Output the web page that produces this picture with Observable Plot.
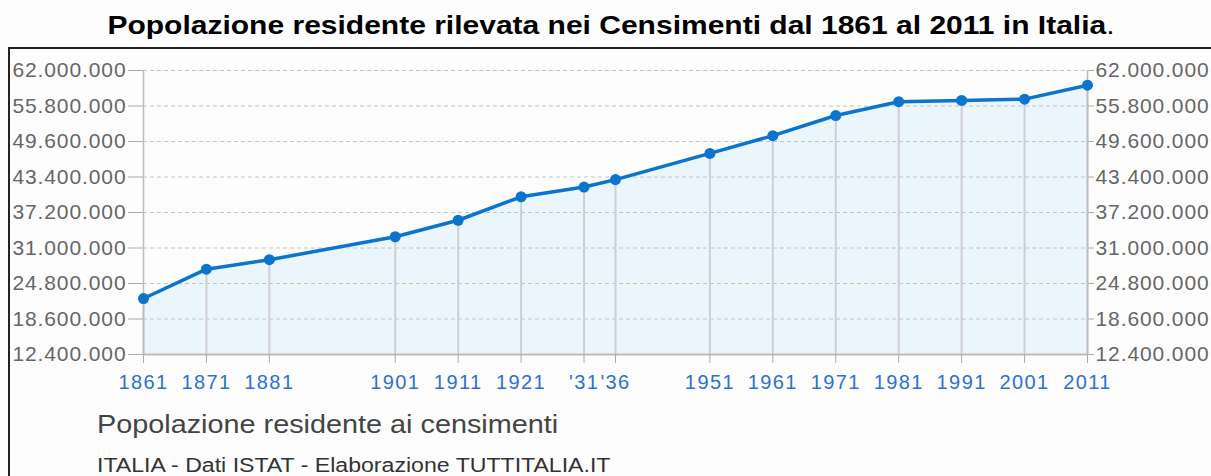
<!DOCTYPE html>
<html>
<head>
<meta charset="utf-8">
<script src="https://cdn.jsdelivr.net/npm/d3@7"></script>
<script src="https://cdn.jsdelivr.net/npm/@observablehq/plot@0.6"></script>
<style>
  html, body { margin: 0; padding: 0; background: #fdfdfd; }
  body { width: 1211px; height: 476px; position: relative; overflow: hidden; font-family: "Liberation Sans", Arial, sans-serif; }
  #title { position: absolute; left: 0; width: 1222px; top: 11px; text-align: center; font-size: 25px; color: #000; white-space: nowrap; transform: scaleX(1.2); transform-origin: 611px 0; }
  #box { position: absolute; left: 8px; top: 47px; width: 1300px; height: 500px; border-left: 2px solid #222; border-top: 2px solid #222; }
  #chart { position: absolute; left: 0; top: 48px; }
  #subtitle { position: absolute; left: 97px; top: 409px; font-size: 26px; color: #444; white-space: nowrap; transform: scaleX(1.108); transform-origin: 0 0; }
  #caption { position: absolute; left: 97px; top: 454px; font-size: 20px; color: #333; white-space: nowrap; transform: scaleX(1.155); transform-origin: 0 0; }
</style>
</head>
<body>
<div id="title"><b>Popolazione residente rilevata nei Censimenti dal 1861 al 2011 in Italia</b>.</div>
<div id="box"></div>
<div id="chart"></div>
<div id="subtitle">Popolazione residente ai censimenti</div>
<div id="caption">ITALIA - Dati ISTAT - Elaborazione TUTTITALIA.IT</div>
<script>
const years = [1861, 1871, 1881, 1901, 1911, 1921, 1931, 1936, 1951, 1961, 1971, 1981, 1991, 2001, 2011];
const population = [22176477, 27303509, 28953480, 32965504, 35845048, 39943528, 41651000, 42943602, 47515537, 50623569, 54136547, 56556911, 56778031, 56995744, 59433744];
const xTickLabels = ["1861", "1871", "1881", "1901", "1911", "1921", "'31", "'36", "1951", "1961", "1971", "1981", "1991", "2001", "2011"];
const yTicks = [12400000, 18600000, 24800000, 31000000, 37200000, 43400000, 49600000, 55800000, 62000000];

const data = years.map((year, i) => ({year, pop: population[i]}));
const labelOf = new Map(years.map((y, i) => [y, xTickLabels[i]]));
const itFmt = d3.formatLocale({decimal: ",", thousands: ".", grouping: [3], currency: ["", "€"]}).format(",d");
const yMin = yTicks[0], yMax = yTicks[yTicks.length - 1];
const blue = "#0a74cf";

const chart = Plot.plot({
  width: 1211,
  height: 350,
  marginLeft: 143,
  marginRight: 124,
  marginTop: 22,
  marginBottom: 44,
  x: {domain: [years[0], years[years.length - 1]]},
  y: {domain: [yMin, yMax]},
  style: {fontFamily: "'Liberation Sans', Arial, sans-serif", background: "transparent", overflow: "visible"},
  marks: [
    Plot.areaY(data, {x: "year", y1: yMin, y2: "pop", fill: "#eaf5fc"}),
    Plot.ruleY(yTicks.slice(1), {stroke: "#c4c4c4", strokeDasharray: "4,3", strokeWidth: 1}),
    Plot.ruleX(data, {x: "year", y1: yMin, y2: "pop", stroke: "#cfcfcf", strokeWidth: 2}),
    Plot.ruleX([years[0], years[years.length - 1]], {y1: yMin, y2: yMax, stroke: "#bdbdbd", strokeWidth: 1.5}),
    Plot.ruleY([yMin], {stroke: "#bdbdbd", strokeWidth: 2}),
    Plot.axisY({anchor: "left", ticks: yTicks, tickFormat: itFmt, tickSize: 15, tickPadding: 2, fontSize: 21, fill: "#666", stroke: "#aaa", label: null}),
    Plot.axisY({anchor: "right", ticks: yTicks, tickFormat: itFmt, tickSize: 6, tickPadding: 2, fontSize: 21, fill: "#666", stroke: "#aaa", label: null}),
    Plot.axisX({ticks: years, tickFormat: d => labelOf.get(d), tickSize: 9, tickPadding: 11, fontSize: 20, fill: "#2e6fd6", stroke: "#aaa", label: null}),
    Plot.line(data, {x: "year", y: "pop", stroke: blue, strokeWidth: 3.5}),
    Plot.dot(data, {x: "year", y: "pop", r: 5.5, fill: blue})
  ]
});

// slightly wider label spacing, as in the reference
chart.querySelectorAll('g[aria-label="y-axis tick label"]').forEach(g => g.style.letterSpacing = "0.9px");
chart.querySelectorAll('g[aria-label="x-axis tick label"]').forEach(g => g.style.letterSpacing = "1.4px");

document.getElementById("chart").append(chart);
</script>
</body>
</html>
